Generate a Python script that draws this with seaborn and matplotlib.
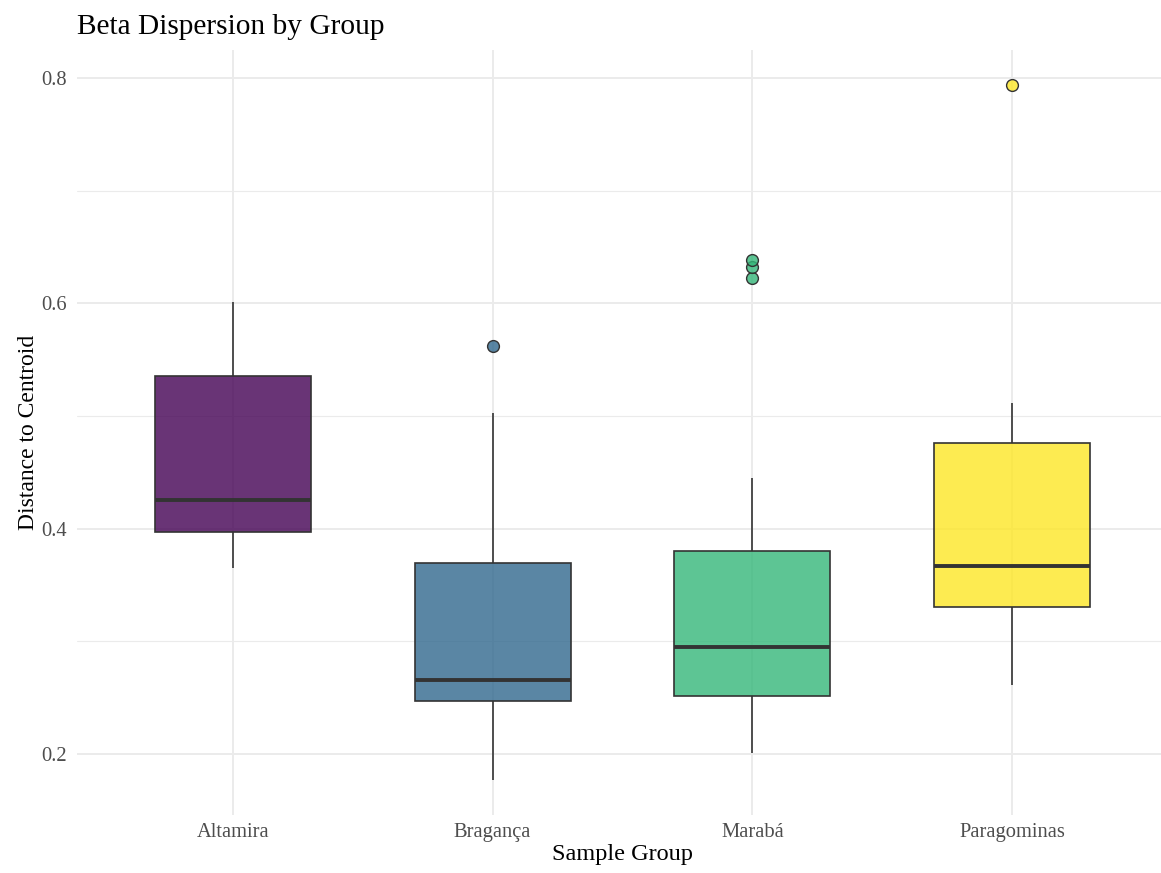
import matplotlib
matplotlib.use("Agg")
import matplotlib.pyplot as plt
import seaborn as sns
import pandas as pd
from matplotlib.colors import to_rgba
from matplotlib.ticker import MultipleLocator

# Distance-to-centroid values per sampling site
groups = ["Altamira", "Bragança", "Marabá", "Paragominas"]
altamira = [0.365, 0.380, 0.397, 0.410, 0.426, 0.480, 0.536, 0.570, 0.601]
braganca = [0.177, 0.220, 0.247, 0.255, 0.266, 0.310, 0.370, 0.503, 0.562]
maraba = [0.201, 0.220, 0.235, 0.245, 0.252, 0.265, 0.278, 0.288, 0.295,
          0.315, 0.340, 0.360, 0.380, 0.445, 0.623, 0.632, 0.639]
paragominas = [0.261, 0.300, 0.331, 0.350, 0.367, 0.420, 0.476, 0.512, 0.794]
colors = ["#440154", "#31688E", "#35B779", "#FDE725"]

values = [altamira, braganca, maraba, paragominas]
df = pd.DataFrame({
    "group": [g for g, v in zip(groups, values) for _ in v],
    "distance": [x for v in values for x in v],
})

sns.set_theme(style="white")
plt.rcParams["font.family"] = ["Liberation Serif", "DejaVu Serif"]

W, H = 1161, 873
fig = plt.figure(figsize=(W / 100, H / 100), dpi=100)
left, right, top, bottom = 77, 1168, 50, 815
ax = fig.add_axes([left / W, 1 - bottom / H, (right - left) / W, (bottom - top) / H])

line_col = "#333333"
palette = dict(zip(groups, colors))
sns.boxplot(
    data=df, x="group", y="distance", hue="group", order=groups,
    hue_order=groups, palette=palette, legend=False, width=0.6,
    linecolor=line_col, linewidth=1.2, showcaps=False, ax=ax,
    medianprops=dict(color=line_col, linewidth=2.8),
    flierprops=dict(marker="o", markersize=8.5, markeredgecolor=line_col,
                    markeredgewidth=1.0),
)

# translucent fills for boxes and outlier points
for cont, col in zip(ax.containers, colors):
    for box in cont.boxes:
        box.set_facecolor(to_rgba(col, 0.8))
        box.set_edgecolor(line_col)
    for fl in cont.fliers:
        fl.set_markerfacecolor(to_rgba(col, 0.8))
        fl.set_markeredgecolor(line_col)

ax.set_xlim(-0.6, 3.6)
ax.set_ylim(0.146, 0.825)
ax.yaxis.set_minor_locator(MultipleLocator(0.1))
ax.set_yticks([0.2, 0.4, 0.6, 0.8])
ax.set_yticklabels(["0.2", "0.4", "0.6", "0.8"])

grid_col = "#ebebeb"
ax.set_axisbelow(True)
ax.grid(True, which="major", color=grid_col, linewidth=1.4)
ax.grid(True, which="minor", axis="y", color=grid_col, linewidth=0.8)
for s in ax.spines.values():
    s.set_visible(False)

ax.tick_params(axis="both", which="both", length=0, colors="#4d4d4d",
               labelsize=14.8)
ax.tick_params(axis="x", pad=6)
ax.tick_params(axis="y", pad=7)
ax.set_xlabel("Sample Group", fontsize=17.5, color="black", labelpad=1)
ax.set_ylabel("Distance to Centroid", fontsize=17, color="black", labelpad=2)
fig.text(left / W, 1 - 34 / H, "Beta Dispersion by Group", fontsize=21.2,
         color="black", ha="left", va="baseline")

fig.savefig("out.png", dpi=100)
